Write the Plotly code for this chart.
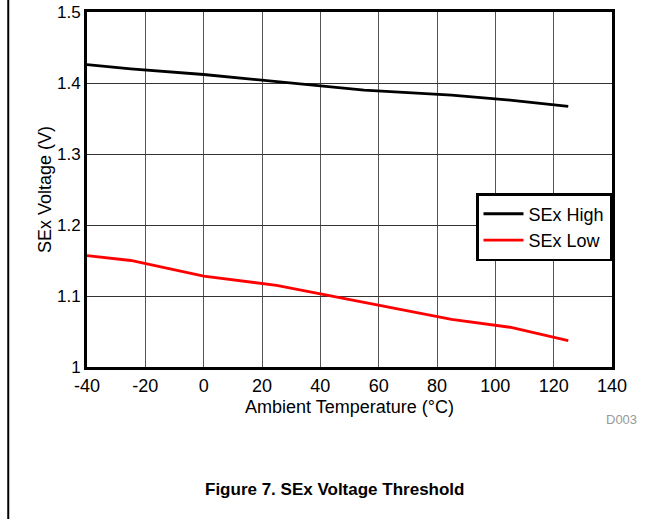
import plotly.graph_objects as go

temps = [-40, -25, 0, 25, 40, 55, 85, 105, 125]
sex_high = [1.426, 1.420, 1.412, 1.402, 1.396, 1.390, 1.383, 1.376, 1.367]
sex_low = [1.157, 1.150, 1.128, 1.115, 1.103, 1.091, 1.067, 1.056, 1.037]

x_ticks = [-40, -20, 0, 20, 40, 60, 80, 100, 120, 140]
x_tick_text = ["-40", "-20", "0", "20", "40", "60", "80", "100", "120", "140"]
y_ticks = [1.0, 1.1, 1.2, 1.3, 1.4, 1.5]
y_tick_text = ["1", "1.1", "1.2", "1.3", "1.4", "1.5"]

FONT = "Liberation Sans"

fig = go.Figure()
fig.add_trace(go.Scatter(x=temps, y=sex_high, mode="lines", name="SEx High",
                         line=dict(color="black", width=2.8)))
fig.add_trace(go.Scatter(x=temps, y=sex_low, mode="lines", name="SEx Low",
                         line=dict(color="#ff0000", width=2.8)))

fig.update_layout(
    width=669, height=529,
    margin=dict(l=87, r=57, t=12, b=162, autoexpand=False),
    paper_bgcolor="white", plot_bgcolor="white",
    font=dict(family=FONT, size=18, color="black"),
    showlegend=True,
    legend=dict(x=1, y=0.49, xanchor="right", yanchor="top",
                bgcolor="white", bordercolor="black", borderwidth=2.5,
                font=dict(family=FONT, size=18, color="black"),
                itemwidth=40, tracegroupgap=0),
    xaxis=dict(range=[-40, 140], tickvals=x_ticks, ticktext=x_tick_text,
               showgrid=True, gridcolor="#555555", gridwidth=1,
               showline=True, linecolor="black", linewidth=3, mirror=True,
               ticks="", zeroline=False, automargin=False,
               title=dict(text="Ambient Temperature (°C)", standoff=6,
                          font=dict(family=FONT, size=18)),
               tickfont=dict(family=FONT, size=18)),
    yaxis=dict(range=[1.0, 1.5], tickvals=y_ticks, ticktext=y_tick_text,
               showgrid=True, gridcolor="#333333", gridwidth=1,
               showline=True, linecolor="black", linewidth=3, mirror=True,
               ticks="", zeroline=False, automargin=False,
               title=dict(text="SEx Voltage (V)", standoff=1,
                          font=dict(family=FONT, size=18)),
               tickfont=dict(family=FONT, size=17)),
)

fig.add_annotation(text="D003", xref="paper", yref="paper", x=1.019, y=-0.149,
                   xanchor="center", yanchor="middle", showarrow=False,
                   font=dict(family=FONT, size=13, color="#999999"))
fig.add_annotation(text="<b>Figure 7. SEx Voltage Threshold</b>", xref="paper", yref="paper",
                   x=0.472, y=-0.344, xanchor="center", yanchor="middle",
                   showarrow=False, font=dict(family=FONT, size=17, color="black"))
fig.add_shape(type="line", xref="paper", yref="paper",
              x0=-0.150, x1=-0.150, y0=1.04, y1=-0.428,
              line=dict(color="black", width=2))

fig.write_html("out.html", config={"displayModeBar": False},
               post_script="document.body.style.margin='0';")
